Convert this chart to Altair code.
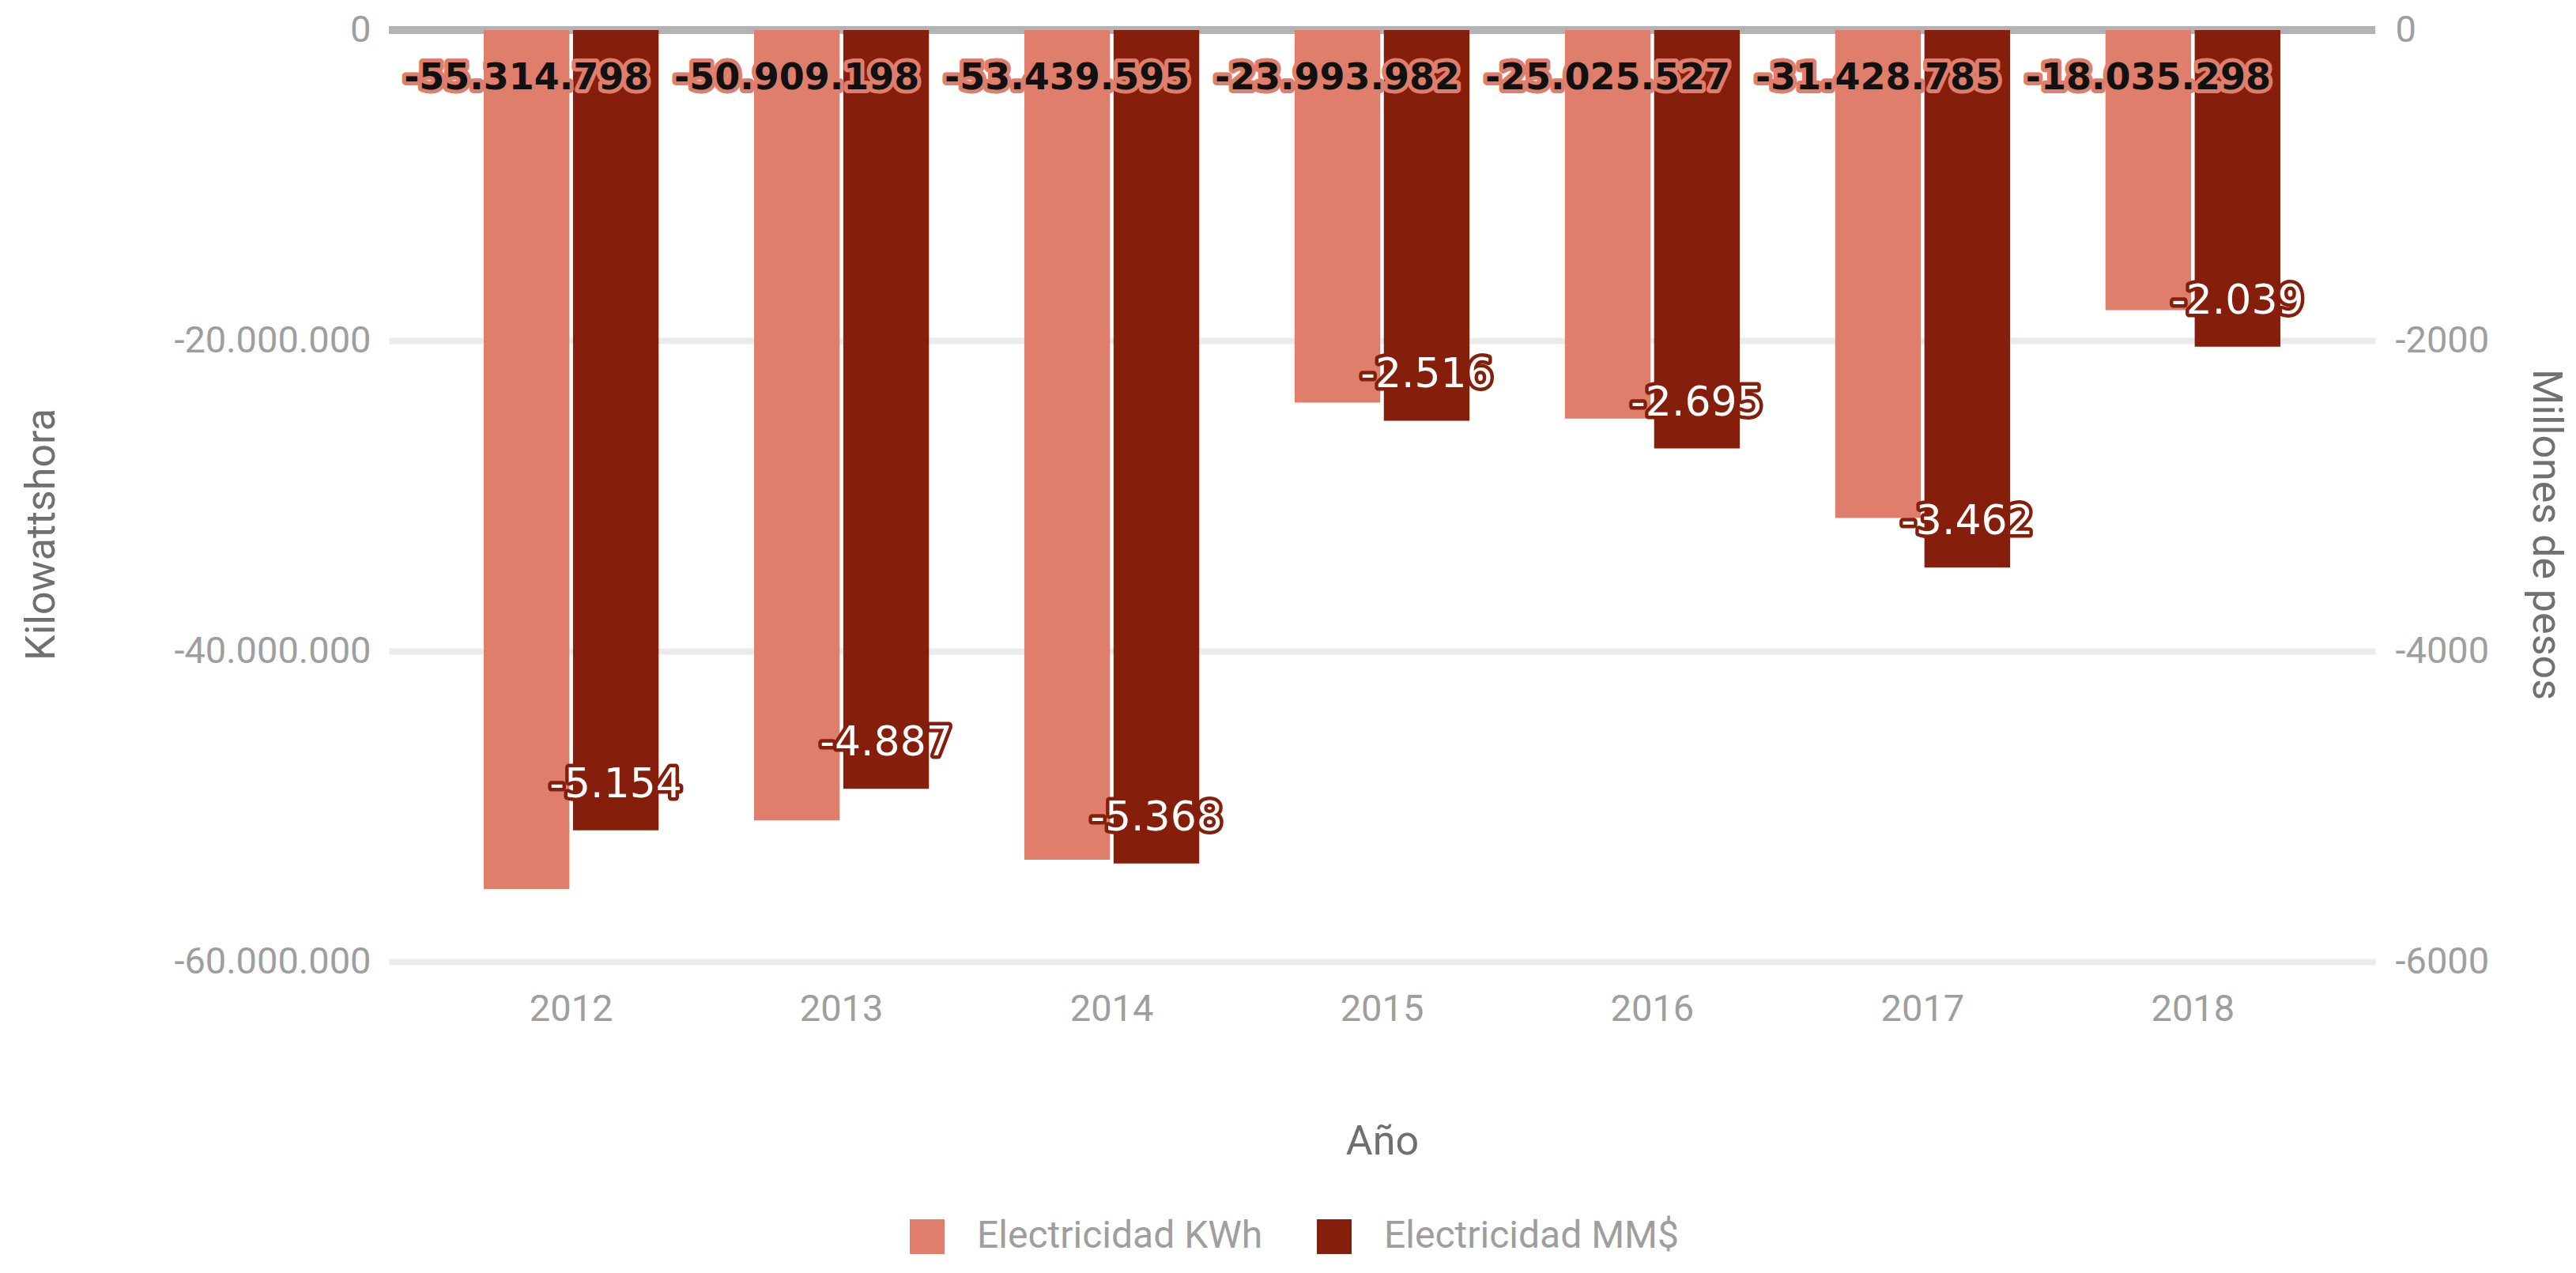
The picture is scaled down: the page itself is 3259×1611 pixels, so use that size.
import altair as alt
import pandas as pd

years = ["2012", "2013", "2014", "2015", "2016", "2017", "2018"]
kwh = [-55314798, -50909198, -53439595, -23993982, -25025527, -31428785, -18035298]
mm = [-5154, -4887, -5368, -2516, -2695, -3462, -2039]
series_names = ["Electricidad KWh", "Electricidad MM$"]
colors = ["#df7e6b", "#861e0c"]
left_ticks = [0, -20000000, -40000000, -60000000]
right_ticks = [0, -2000, -4000, -6000]
left_domain = [-60000000, 0]
right_domain = [-6000, 0]

df_k = pd.DataFrame({"year": years, "series": series_names[0], "value": kwh})
df_m = pd.DataFrame({"year": years, "series": series_names[1], "value": mm})
df_zero = pd.DataFrame({"zero": [0]})

x_enc = alt.X(
    "year:N", sort=years,
    scale=alt.Scale(domain=years, paddingInner=0.353, paddingOuter=0.351),
    axis=alt.Axis(title="Año", labelAngle=0, labelBaseline="alphabetic", labelPadding=74,
                  titleY=243, titleBaseline="alphabetic"),
)
xo_enc = alt.XOffset("series:N", scale=alt.Scale(domain=series_names, paddingInner=0.04, paddingOuter=0))
color_enc = alt.Color(
    "series:N",
    scale=alt.Scale(domain=series_names, range=colors),
    legend=alt.Legend(title=None, orient="none", legendX=657, legendY=1503, direction="horizontal",
                      columns=2, symbolType="square", symbolSize=1936, symbolStrokeWidth=0,
                      labelFont="Roboto", labelFontSize=48, labelColor="#9e9e9e", labelOffset=39,
                      labelLimit=0, columnPadding=66, padding=0),
)

yl_scale = alt.Scale(domain=left_domain, nice=False)
yr_scale = alt.Scale(domain=right_domain, nice=False)

yl_axis = alt.Axis(title="Kilowattshora", values=left_ticks, format=",d", orient="left", grid=True,
                   gridColor="#ebebeb", gridWidth=8, labelPadding=23, labelLimit=0, titleAngle=270,
                   titleX=-424, titleY=638, titleAlign="center", titleBaseline="alphabetic")
yr_axis = alt.Axis(title="Millones de pesos", values=right_ticks, format="d", orient="right", grid=False,
                   labelPadding=25, labelLimit=0, titleAngle=90, titleX=199, titleY=638,
                   titleAlign="center", titleBaseline="alphabetic")

zero_rule = alt.Chart(df_zero).mark_rule(color="#b3b3b3", strokeWidth=10).encode(
    y=alt.Y("zero:Q", scale=yl_scale, axis=None)
)

bars_k = alt.Chart(df_k).mark_bar().encode(
    x=x_enc, xOffset=xo_enc, y=alt.Y("value:Q", scale=yl_scale, axis=yl_axis), color=color_enc
)
bars_m = alt.Chart(df_m).mark_bar().encode(
    x=x_enc, xOffset=xo_enc, y=alt.Y("value:Q", scale=yr_scale, axis=yr_axis), color=color_enc
)

k_text_props = dict(font="DejaVu Sans", fontWeight="bold", fontSize=46, baseline="middle", dy=61)
halo_k = alt.Chart(df_k).mark_text(fill=colors[0], stroke=colors[0], strokeWidth=10,
                                   strokeJoin="round", **k_text_props).encode(
    x=x_enc, xOffset=xo_enc,
    y=alt.YDatum(0, type="quantitative", scale=yl_scale, axis=None),
    text=alt.Text("value:Q", format=",d"),
)
text_k = alt.Chart(df_k).mark_text(fill="#111111", **k_text_props).encode(
    x=x_enc, xOffset=xo_enc,
    y=alt.YDatum(0, type="quantitative", scale=yl_scale, axis=None),
    text=alt.Text("value:Q", format=",d"),
)

m_text_props = dict(font="DejaVu Sans", fontSize=52, baseline="middle", dy=-58)
halo_m = alt.Chart(df_m).mark_text(fill=colors[1], stroke=colors[1], strokeWidth=9,
                                   strokeJoin="round", **m_text_props).encode(
    x=x_enc, xOffset=xo_enc,
    y=alt.Y("value:Q", scale=yr_scale, axis=None),
    text=alt.Text("value:Q", format=",d"),
)
text_m = alt.Chart(df_m).mark_text(fill="#ffffff", **m_text_props).encode(
    x=x_enc, xOffset=xo_enc,
    y=alt.Y("value:Q", scale=yr_scale, axis=None),
    text=alt.Text("value:Q", format=",d"),
)

chart = (
    alt.layer(zero_rule, bars_k, bars_m, halo_k, text_k, halo_m, text_m)
    .resolve_scale(y="independent")
    .properties(
        width=2513, height=1179,
        autosize=alt.AutoSizeParams(type="none"),
        padding={"left": 484, "top": 30, "right": 246, "bottom": 381},
    )
    .configure_view(stroke=None)
    .configure_axis(domain=False, ticks=False, tickSize=0, labelFont="Roboto", labelFontSize=47,
                    labelColor="#9e9e9e", titleFont="Roboto", titleFontSize=52, titleColor="#707070",
                    titleFontWeight="normal")
    .configure_axisX(grid=False)
)

chart.save("out.html", embed_options={
    "renderer": "svg", "actions": False,
    "formatLocale": {"decimal": ",", "thousands": ".", "grouping": [3],
                     "currency": ["$", ""], "minus": "-"},
})
